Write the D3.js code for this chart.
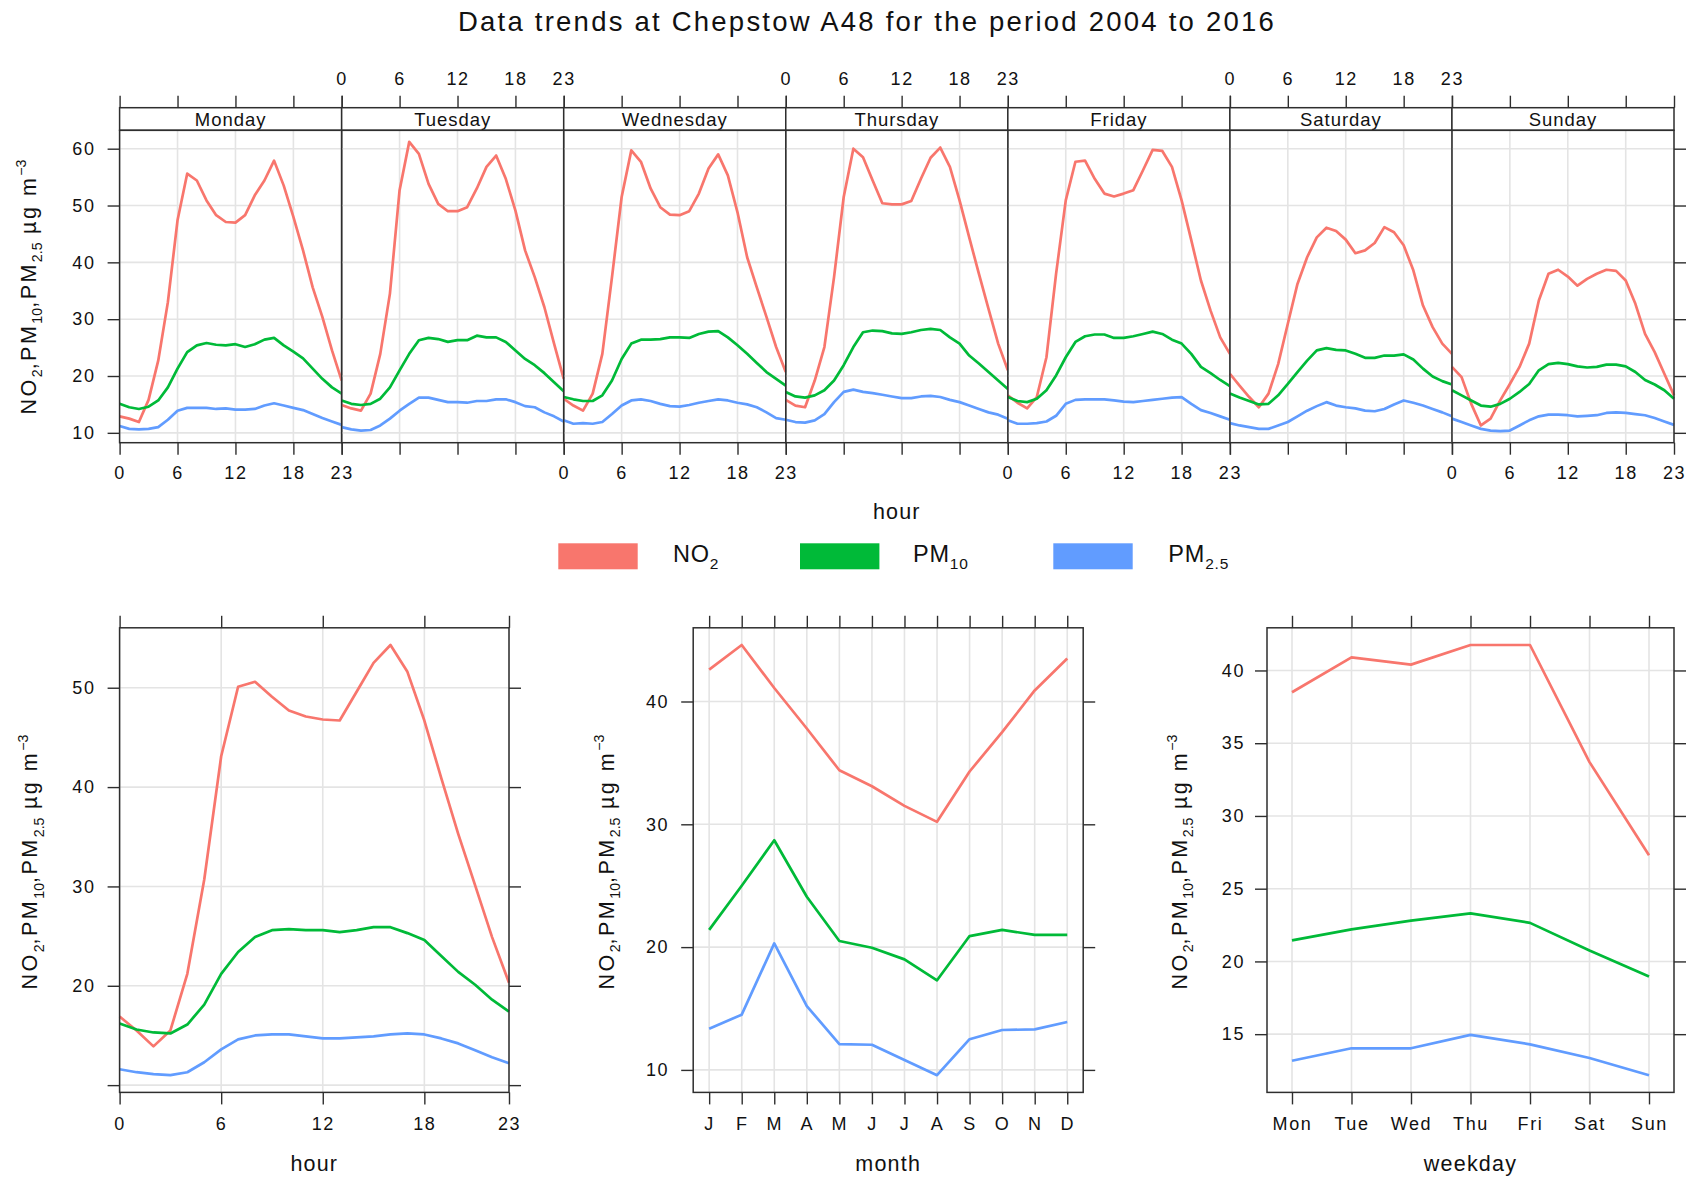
<!DOCTYPE html>
<html>
<head>
<meta charset="utf-8">
<script src="https://cdn.jsdelivr.net/npm/d3@7"></script>
<style>
  html, body { margin: 0; padding: 0; background: #fff; }
  svg text { font-family: "Liberation Sans", Arial, Helvetica, sans-serif; }
</style>
</head>
<body>
<svg id="chart" width="1689" height="1177"></svg>
<script>
// ---------------------------------------------------------------
// Data: mean concentrations (µg m-3) at Chepstow A48, 2004–2016
// ---------------------------------------------------------------
const titleText = "Data trends at Chepstow A48 for the period 2004 to 2016";
const pollutants = ["NO2", "PM10", "PM2.5"];
const days = ["Monday", "Tuesday", "Wednesday", "Thursday", "Friday", "Saturday", "Sunday"];
const hours = d3.range(24);
const hourTicks = [0, 6, 12, 18, 23];
const months = ["J", "F", "M", "A", "M", "J", "J", "A", "S", "O", "N", "D"];
const weekdays = ["Mon", "Tue", "Wed", "Thu", "Fri", "Sat", "Sun"];

// hour-of-day profile for each day of the week (rows Monday..Sunday)
const no2DayHour = [
  [12.9, 12.5, 11.9, 15.8, 22.7, 33.0, 47.4, 55.6, 54.4, 50.9, 48.3, 47.1, 47.0, 48.3, 51.8, 54.4, 57.9, 53.5, 48.0, 42.1, 35.6, 30.4, 24.5, 19.2],
  [14.9, 14.3, 13.9, 16.9, 23.9, 34.5, 52.7, 61.2, 59.1, 53.8, 50.3, 49.0, 49.0, 49.7, 53.0, 56.8, 58.8, 54.7, 49.1, 42.1, 37.4, 32.1, 25.7, 19.5],
  [16.0, 14.8, 13.9, 16.9, 23.9, 37.4, 51.5, 59.7, 57.7, 53.0, 49.7, 48.4, 48.3, 49.0, 52.1, 56.5, 59.0, 55.3, 48.8, 40.9, 35.6, 30.4, 25.1, 20.7],
  [15.8, 14.8, 14.5, 19.2, 25.1, 37.4, 51.5, 60.0, 58.5, 54.4, 50.4, 50.2, 50.2, 50.8, 54.7, 58.4, 60.2, 56.8, 50.9, 44.4, 38.0, 31.8, 25.7, 21.0],
  [16.6, 15.3, 14.3, 16.3, 23.3, 38.0, 50.9, 57.7, 57.9, 54.7, 52.1, 51.6, 52.1, 52.7, 56.2, 59.8, 59.6, 56.8, 50.9, 43.9, 36.8, 31.5, 26.8, 23.9],
  [20.4, 18.3, 16.3, 14.5, 16.9, 22.1, 29.2, 36.2, 40.9, 44.4, 46.1, 45.5, 44.0, 41.6, 42.1, 43.4, 46.2, 45.3, 43.0, 38.6, 32.4, 28.6, 25.7, 23.9],
  [21.6, 19.8, 15.1, 11.3, 12.5, 15.7, 18.6, 21.6, 25.7, 33.3, 38.0, 38.7, 37.5, 35.9, 37.1, 38.0, 38.7, 38.5, 36.8, 32.7, 27.4, 24.2, 20.4, 16.6]
];
const pm10DayHour = [
  [15.1, 14.5, 14.2, 14.6, 15.7, 18.0, 21.3, 24.2, 25.4, 25.8, 25.5, 25.4, 25.6, 25.1, 25.6, 26.4, 26.7, 25.4, 24.3, 23.1, 21.3, 19.5, 18.0, 16.9],
  [15.7, 15.1, 14.9, 15.1, 16.0, 18.0, 21.0, 23.9, 26.3, 26.7, 26.5, 26.0, 26.3, 26.3, 27.1, 26.8, 26.8, 26.0, 24.5, 23.0, 21.9, 20.5, 18.9, 17.3],
  [16.3, 15.9, 15.6, 15.6, 16.6, 19.2, 23.0, 25.7, 26.4, 26.4, 26.5, 26.8, 26.8, 26.7, 27.4, 27.8, 27.9, 26.8, 25.4, 23.9, 22.3, 20.7, 19.5, 18.3],
  [17.2, 16.4, 16.2, 16.6, 17.5, 19.2, 21.9, 25.1, 27.7, 28.0, 27.9, 27.5, 27.4, 27.7, 28.1, 28.3, 28.1, 26.8, 25.7, 23.6, 22.2, 20.7, 19.2, 17.7],
  [16.3, 15.6, 15.4, 16.0, 17.5, 20.1, 23.3, 26.0, 27.0, 27.3, 27.3, 26.7, 26.7, 27.0, 27.4, 27.8, 27.4, 26.4, 25.7, 23.9, 21.6, 20.5, 19.3, 18.2],
  [16.9, 16.2, 15.6, 15.0, 15.1, 16.6, 18.6, 20.7, 22.7, 24.5, 24.9, 24.6, 24.5, 23.9, 23.2, 23.2, 23.6, 23.6, 23.8, 22.9, 21.3, 19.9, 19.1, 18.5],
  [17.5, 16.6, 15.7, 14.8, 14.6, 15.1, 16.0, 17.2, 18.6, 21.0, 22.1, 22.3, 22.1, 21.7, 21.5, 21.6, 22.0, 22.0, 21.7, 20.7, 19.3, 18.5, 17.5, 16.0]
];
const pm25DayHour = [
  [11.2, 10.7, 10.6, 10.7, 11.0, 12.3, 13.9, 14.4, 14.4, 14.4, 14.2, 14.3, 14.1, 14.1, 14.2, 14.8, 15.2, 14.8, 14.4, 14.0, 13.3, 12.6, 12.0, 11.4],
  [11.0, 10.6, 10.4, 10.5, 11.3, 12.5, 13.9, 15.1, 16.2, 16.2, 15.8, 15.4, 15.4, 15.3, 15.6, 15.6, 15.9, 15.9, 15.4, 14.7, 14.5, 13.6, 12.9, 12.0],
  [12.2, 11.6, 11.7, 11.6, 11.9, 13.3, 14.8, 15.7, 15.9, 15.6, 15.1, 14.7, 14.6, 14.9, 15.3, 15.6, 15.9, 15.7, 15.3, 15.0, 14.5, 13.6, 12.6, 12.3],
  [12.3, 11.9, 11.8, 12.2, 13.3, 15.4, 17.2, 17.6, 17.2, 17.0, 16.7, 16.4, 16.1, 16.1, 16.4, 16.5, 16.3, 15.8, 15.4, 14.8, 14.2, 13.6, 13.2, 12.5],
  [12.2, 11.6, 11.6, 11.7, 12.0, 13.0, 15.1, 15.8, 15.9, 15.9, 15.9, 15.7, 15.5, 15.4, 15.6, 15.8, 16.0, 16.2, 16.3, 15.1, 14.0, 13.5, 12.9, 12.3],
  [11.7, 11.3, 11.0, 10.7, 10.7, 11.3, 11.9, 12.9, 13.9, 14.7, 15.4, 14.8, 14.5, 14.3, 13.9, 13.8, 14.2, 15.0, 15.7, 15.3, 14.8, 14.2, 13.6, 12.9],
  [12.5, 11.9, 11.3, 10.7, 10.4, 10.3, 10.4, 11.3, 12.2, 12.9, 13.2, 13.2, 13.1, 12.9, 13.0, 13.1, 13.5, 13.6, 13.5, 13.3, 13.1, 12.6, 12.0, 11.4]
];

// hour-of-day profile, all days
const no2Hour  = [16.9, 15.5, 13.9, 15.5, 21.2, 30.7, 43.1, 50.1, 50.6, 49.1, 47.7, 47.1, 46.8, 46.7, 49.6, 52.5, 54.3, 51.6, 46.7, 40.9, 35.3, 30.1, 24.9, 20.3];
const pm10Hour = [16.2, 15.6, 15.3, 15.2, 16.1, 18.1, 21.2, 23.4, 24.9, 25.6, 25.7, 25.6, 25.6, 25.4, 25.6, 25.9, 25.9, 25.3, 24.6, 23.0, 21.4, 20.1, 18.6, 17.4];
const pm25Hour = [11.6, 11.3, 11.1, 11.0, 11.3, 12.3, 13.6, 14.6, 15.0, 15.1, 15.1, 14.9, 14.7, 14.7, 14.8, 14.9, 15.1, 15.2, 15.1, 14.7, 14.2, 13.5, 12.8, 12.2];

// monthly means
const no2Month  = [42.6, 44.6, 41.1, 37.8, 34.4, 33.1, 31.5, 30.2, 34.3, 37.5, 40.9, 43.5];
const pm10Month = [21.4, 25.0, 28.7, 24.1, 20.5, 19.95, 19.0, 17.3, 20.9, 21.4, 21.0, 21.0];
const pm25Month = [13.35, 14.5, 20.3, 15.2, 12.1, 12.05, 10.8, 9.57, 12.5, 13.25, 13.3, 13.9];

// day-of-week means
const no2Weekday  = [38.5, 40.9, 40.4, 41.75, 41.75, 33.7, 27.3];
const pm10Weekday = [21.45, 22.2, 22.8, 23.3, 22.65, 20.75, 18.97];
const pm25Weekday = [13.17, 14.03, 14.03, 14.95, 14.3, 13.36, 12.18];

// y tick values for each panel
const dayHourYTicks = [10, 20, 30, 40, 50, 60];
const hourYTicks = [10, 20, 30, 40, 50];
const hourYLabelled = [20, 30, 40, 50];
const monthYTicks = [10, 20, 30, 40];
const weekdayYTicks = [15, 20, 25, 30, 35, 40];

// ---------------------------------------------------------------
// Drawing
// ---------------------------------------------------------------
const FONT = '"Liberation Sans", Arial, Helvetica, sans-serif';
const colours = ["#F8766D", "#00BA38", "#619CFF"];
const ink = "#2e2e2e";
const gridCol = "#e4e4e4";
const tickLen = 12;
const tickFont = 18;
const lineWidth = 2.7;

const svg = d3.select("#chart");

function padExtent(values, frac) {
  const [lo, hi] = d3.extent(values);
  const pad = (hi - lo) * frac;
  return [lo - pad, hi + pad];
}

// spread a plain text's letters so that it spans a given width
function fitWidth(sel, width) {
  const node = sel.node();
  sel.style("letter-spacing", "0px");
  const natural = node.getComputedTextLength();
  const n = node.textContent.length;
  sel.style("letter-spacing", ((width - natural) / n) + "px");
}

// same for text built from tspans: only full-size pieces get spread
function fitRich(sel, width) {
  const spans = sel.selectAll("tspan");
  spans.style("letter-spacing", "0px");
  const natural = sel.node().getComputedTextLength();
  const main = spans.filter(function () { return !this.dataset.small; });
  const n = d3.sum(main.nodes(), d => d.textContent.length);
  main.style("letter-spacing", Math.max(0, (width - natural) / n) + "px");
}

function styleAxis(g) {
  g.attr("font-family", FONT).attr("font-size", tickFont);
  g.select(".domain").remove();
  g.selectAll(".tick line").attr("stroke", ink).attr("stroke-width", 1.4);
  g.selectAll(".tick text").attr("fill", "#111").style("letter-spacing", "1.6px");
}

// text with chemical subscripts / unit superscript
function richText(parent, parts, size) {
  const t = parent.append("text").attr("font-size", size).attr("fill", "#111");
  let shift = 0;
  parts.forEach(([str, kind]) => {
    const target = kind === "sub" ? size * 0.3 : kind === "sup" ? -size * 0.45 : 0;
    const sp = t.append("tspan")
      .attr("dy", target - shift)
      .attr("font-size", kind ? size * 0.66 : size)
      .text(str);
    if (kind) sp.attr("data-small", "1");
    shift = target;
  });
  return t;
}

const unitParts = [["NO", ""], ["2", "sub"], [",PM", ""], ["10", "sub"], [",PM", ""], ["2.5", "sub"], [" µg m", ""], ["−3", "sup"]];

function yTitle(x, y) {
  const t = richText(svg.append("g").attr("transform", `translate(${x},${y}) rotate(-90)`), unitParts, 21.5)
    .attr("text-anchor", "middle");
  fitRich(t, 255);
}

function drawSeries(g, xs, yScale, seriesList) {
  seriesList.forEach((vals, k) => {
    g.append("path")
      .datum(vals)
      .attr("fill", "none")
      .attr("stroke", colours[k])
      .attr("stroke-width", lineWidth)
      .attr("stroke-linejoin", "round")
      .attr("d", d3.line().x((d, i) => xs(i)).y(d => yScale(d)));
  });
}

function grid(g, xVals, xScale, yVals, yScale, box) {
  g.selectAll(null).data(xVals).join("line")
    .attr("x1", d => xScale(d)).attr("x2", d => xScale(d))
    .attr("y1", box.top).attr("y2", box.bottom)
    .attr("stroke", gridCol).attr("stroke-width", 1.6);
  g.selectAll(null).data(yVals).join("line")
    .attr("x1", box.left).attr("x2", box.right)
    .attr("y1", d => yScale(d)).attr("y2", d => yScale(d))
    .attr("stroke", gridCol).attr("stroke-width", 1.6);
}

// ----- title -----
const title = svg.append("text")
  .attr("x", 458).attr("y", 30.5)
  .attr("font-size", 27.5).attr("fill", "#111")
  .text(titleText);
fitWidth(title, 818);

// ----- top: hour of day by weekday -----
const topBox = { left: 119.6, right: 1674, stripTop: 107.7, stripBottom: 130.3, bottom: 442.7 };
const panelW = (topBox.right - topBox.left) / days.length;
const yTop = d3.scaleLinear()
  .domain(padExtent([...no2DayHour.flat(), ...pm10DayHour.flat(), ...pm25DayHour.flat()], 0.04))
  .range([topBox.bottom, topBox.stripBottom]);

let stripSpacing = null;
days.forEach((day, i) => {
  const x0 = topBox.left + i * panelW;
  const x = d3.scaleLinear().domain([0, 23]).range([x0, x0 + panelW]);
  const g = svg.append("g");
  const box = { left: x0, right: x0 + panelW, top: topBox.stripBottom, bottom: topBox.bottom };
  grid(g, hourTicks, x, dayHourYTicks, yTop, box);
  drawSeries(g, h => x(hours[h]), yTop, [no2DayHour[i], pm10DayHour[i], pm25DayHour[i]]);

  // strip with the day name
  g.append("rect")
    .attr("x", x0).attr("y", topBox.stripTop)
    .attr("width", panelW).attr("height", topBox.stripBottom - topBox.stripTop)
    .attr("fill", "#fff").attr("stroke", ink).attr("stroke-width", 1.5);
  const st = g.append("text")
    .attr("x", x0 + panelW / 2).attr("y", (topBox.stripTop + topBox.stripBottom) / 2 + 6.8)
    .attr("text-anchor", "middle").attr("font-size", 18.5).attr("fill", "#111")
    .text(day);
  if (stripSpacing === null) { fitWidth(st, 71.6); stripSpacing = st.style("letter-spacing"); }
  else st.style("letter-spacing", stripSpacing);

  // panel frame
  g.append("rect")
    .attr("x", x0).attr("y", topBox.stripBottom)
    .attr("width", panelW).attr("height", topBox.bottom - topBox.stripBottom)
    .attr("fill", "none").attr("stroke", ink).attr("stroke-width", 1.5);

  // alternating hour labels: below for Mon/Wed/Fri/Sun, above for Tue/Thu/Sat
  const blank = () => "";
  svg.append("g").attr("transform", `translate(0,${topBox.bottom})`)
    .call(d3.axisBottom(x).tickValues(hourTicks).tickSize(tickLen).tickPadding(11.5)
      .tickFormat(i % 2 === 0 ? d3.format("d") : blank))
    .call(styleAxis);
  svg.append("g").attr("transform", `translate(0,${topBox.stripTop})`)
    .call(d3.axisTop(x).tickValues(hourTicks).tickSize(tickLen).tickPadding(10.5)
      .tickFormat(i % 2 === 1 ? d3.format("d") : blank))
    .call(styleAxis);
});

svg.append("g").attr("transform", `translate(${topBox.left},0)`)
  .call(d3.axisLeft(yTop).tickValues(dayHourYTicks).tickSize(tickLen).tickPadding(12))
  .call(styleAxis);
svg.append("g").attr("transform", `translate(${topBox.right},0)`)
  .call(d3.axisRight(yTop).tickValues(dayHourYTicks).tickSize(tickLen).tickFormat(() => ""))
  .call(styleAxis);

yTitle(36, 287);
svg.append("text")
  .attr("x", (topBox.left + topBox.right) / 2).attr("y", 519)
  .attr("text-anchor", "middle").attr("font-size", 21.5).attr("fill", "#111")
  .style("letter-spacing", "1.2px")
  .text("hour");

// ----- legend -----
const legendItems = [
  { rx: 558.3, tx: 673, parts: [["NO", ""], ["2", "sub"]] },
  { rx: 800, tx: 913, parts: [["PM", ""], ["10", "sub"]] },
  { rx: 1053.3, tx: 1168.3, parts: [["PM", ""], ["2.5", "sub"]] }
];
legendItems.forEach((item, k) => {
  svg.append("rect")
    .attr("x", item.rx).attr("y", 543.3).attr("width", 79.4).attr("height", 26)
    .attr("fill", colours[k]);
  const lg = svg.append("g").attr("transform", `translate(${item.tx},561.7)`);
  const t = richText(lg, item.parts, 23.5);
  t.attr("aria-label", pollutants[k]);
  t.selectAll("tspan").style("letter-spacing", "0.8px");
});

// ----- bottom panels -----
function bottomPanel(opt) {
  const box = opt.box;
  const y = d3.scaleLinear()
    .domain(padExtent([...opt.series[0], ...opt.series[1], ...opt.series[2]], 0.04))
    .range([box.bottom, box.top]);
  const g = svg.append("g");
  grid(g, opt.xTicks, opt.x, opt.yTicks, y, box);
  drawSeries(g, i => opt.x(opt.xData[i]), y, opt.series);
  g.append("rect")
    .attr("x", box.left).attr("y", box.top)
    .attr("width", box.right - box.left).attr("height", box.bottom - box.top)
    .attr("fill", "none").attr("stroke", ink).attr("stroke-width", 1.5);

  svg.append("g").attr("transform", `translate(0,${box.bottom})`)
    .call(d3.axisBottom(opt.x).tickValues(opt.xTicks).tickSize(tickLen).tickPadding(12.5).tickFormat(opt.xFormat))
    .call(styleAxis);
  svg.append("g").attr("transform", `translate(0,${box.top})`)
    .call(d3.axisTop(opt.x).tickValues(opt.xTicks).tickSize(tickLen).tickFormat(() => ""))
    .call(styleAxis);
  svg.append("g").attr("transform", `translate(${box.left},0)`)
    .call(d3.axisLeft(y).tickValues(opt.yTicks).tickSize(tickLen).tickPadding(opt.yPad)
      .tickFormat(opt.yFormat || d3.format("d")))
    .call(styleAxis);
  svg.append("g").attr("transform", `translate(${box.right},0)`)
    .call(d3.axisRight(y).tickValues(opt.yTicks).tickSize(tickLen).tickFormat(() => ""))
    .call(styleAxis);

  yTitle(opt.titleX, (box.top + box.bottom) / 2 + 2);
  svg.append("text")
    .attr("x", (box.left + box.right) / 2).attr("y", 1170.5)
    .attr("text-anchor", "middle").attr("font-size", 21.5).attr("fill", "#111")
    .style("letter-spacing", "1.2px")
    .text(opt.xTitle);
}

const rowTop = 627.8, rowBottom = 1092.4;

bottomPanel({
  box: { left: 119.6, right: 509, top: rowTop, bottom: rowBottom },
  x: d3.scaleLinear().domain([0, 23]).range([119.6, 509]),
  xData: hours,
  xTicks: hourTicks,
  xFormat: d3.format("d"),
  series: [no2Hour, pm10Hour, pm25Hour],
  yTicks: hourYTicks,
  yFormat: d => hourYLabelled.includes(d) ? d : "",
  yPad: 12,
  titleX: 37.3,
  xTitle: "hour"
});

// month and weekday axes use category positions
const monthIdx = d3.range(months.length);
const weekdayIdx = d3.range(weekdays.length);

bottomPanel({
  box: { left: 693.2, right: 1083.2, top: rowTop, bottom: rowBottom },
  x: d3.scalePoint().domain(monthIdx).range([693.2, 1083.2]).padding(0.49),
  xData: monthIdx,
  xTicks: monthIdx,
  xFormat: i => months[i],
  series: [no2Month, pm10Month, pm25Month],
  yTicks: monthYTicks,
  yPad: 12,
  titleX: 613.6,
  xTitle: "month"
});

bottomPanel({
  box: { left: 1267, right: 1674, top: rowTop, bottom: rowBottom },
  x: d3.scalePoint().domain(weekdayIdx).range([1267, 1674]).padding(0.42),
  xData: weekdayIdx,
  xTicks: weekdayIdx,
  xFormat: i => weekdays[i],
  series: [no2Weekday, pm10Weekday, pm25Weekday],
  yTicks: weekdayYTicks,
  yPad: 10,
  titleX: 1187,
  xTitle: "weekday"
});
</script>
</body>
</html>
